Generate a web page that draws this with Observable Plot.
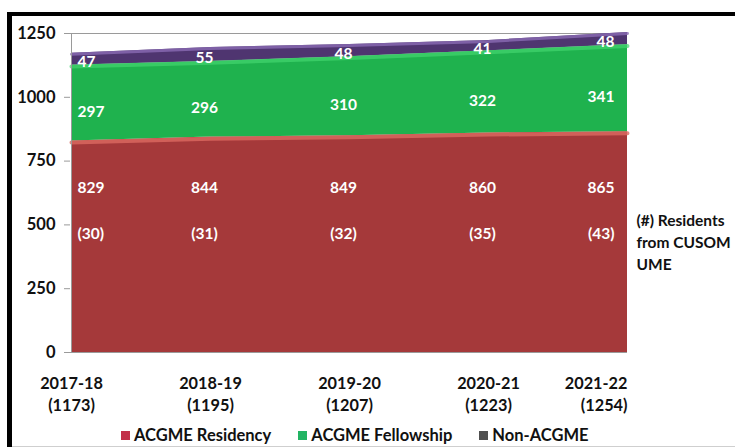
<!DOCTYPE html>
<html>
<head>
<meta charset="utf-8">
<script src="https://cdn.jsdelivr.net/npm/d3@7"></script>
<script src="https://cdn.jsdelivr.net/npm/@observablehq/plot@0.6"></script>
<style>
  html, body { margin: 0; padding: 0; background: #fff; }
  #wrap { position: relative; width: 735px; height: 447px; overflow: hidden; font-family: Lato, "Open Sans", sans-serif; }
  #frame { position: absolute; left: 7px; top: 12px; right: 0; bottom: 0; border-top: 4px solid #000; border-left: 5px solid #000; pointer-events: none; z-index: 2; }
  #bottomline { position: absolute; left: 12px; right: 0; top: 446px; height: 1px; background: #cfcfcf; z-index: 2; }
  #chart { position: absolute; left: 0; top: 0; }
  #legend { position: absolute; left: 121px; top: 426px; line-height: 19px; display: flex; gap: 27px; font-size: 16.5px; font-weight: 700; color: #111; white-space: nowrap; z-index: 1; }
  #legend span.sw { display: inline-block; width: 9px; height: 9px; margin-right: 4px; vertical-align: 1px; }
</style>
</head>
<body>
<div id="wrap">
  <div id="chart"></div>
  <div id="legend"></div>
  <div id="bottomline"></div>
  <div id="frame"></div>
</div>
<script>
const years = ["2017-18", "2018-19", "2019-20", "2020-21", "2021-22"];
const totals = [1173, 1195, 1207, 1223, 1254];
const residency = [829, 844, 849, 860, 865];
const fellowship = [297, 296, 310, 322, 341];
const nonAcgme = [47, 55, 48, 41, 48];
const cusom = [30, 31, 32, 35, 43];
const seriesNames = ["ACGME Residency", "ACGME Fellowship", "Non-ACGME"];
const seriesColors = ["#a5393a", "#1fb24e", "#4f3570"];
const edgeColors = ["#dc6a62", "#43d56f", "#8a6cb4"];
const legendColors = ["#c2304a", "#22b463", "#505050"];
const yTicks = [0, 250, 500, 750, 1000, 1250];
const annotation = "(#) Residents\nfrom CUSOM\nUME";

// stacked rows
const seriesValues = [residency, fellowship, nonAcgme];
const rows = [];
years.forEach((yr, i) => {
  let base = 0;
  seriesValues.forEach((vals, s) => {
    rows.push({year: yr, i, series: seriesNames[s], value: vals[i], y1: base, y2: base + vals[i]});
    base += vals[i];
  });
});
const last = years.length - 1;

const resRows = rows.filter(d => d.series === seriesNames[0]);
const felRows = rows.filter(d => d.series === seriesNames[1]);
const nonRows = rows.filter(d => d.series === seriesNames[2]);

function labelMarks(data, yFn, dy, textFn) {
  return [0, 1, 2].map(k => {
    const sub = data.filter(d => (k === 0 ? d.i === 0 : k === 2 ? d.i === last : d.i !== 0 && d.i !== last));
    return Plot.text(sub, {
      x: "year", y: yFn, text: textFn, dy,
      dx: k === 0 ? 6 : k === 2 ? -13 : -6,
      textAnchor: k === 0 ? "start" : k === 2 ? "end" : "middle",
      fill: "white", fontWeight: "bold", fontSize: 15.5
    });
  });
}

const plot = Plot.plot({
  width: 735,
  height: 447,
  marginTop: 33, marginBottom: 95, marginLeft: 70, marginRight: 108,
  style: {fontFamily: "Lato, 'Open Sans', sans-serif", background: "transparent", overflow: "visible"},
  x: {type: "point", domain: years, range: [70, 627], padding: 0, axis: null},
  y: {domain: [0, 1250], range: [352, 33], axis: null},
  color: {domain: seriesNames, range: seriesColors},
  marks: [
    Plot.ruleY([1250], {stroke: "#9a9a9a", strokeWidth: 1}),
    Plot.areaY(rows, {x: "year", y1: "y1", y2: "y2", z: "series", fill: "series", curve: "linear"}),
    Plot.lineY(resRows, {x: "year", y: d => d.y2 - 6, stroke: edgeColors[0], strokeWidth: 4, strokeOpacity: 0.8}),
    Plot.lineY(felRows, {x: "year", y: d => d.y2 - 5, stroke: edgeColors[1], strokeWidth: 4, strokeOpacity: 0.7}),
    Plot.lineY(nonRows, {x: "year", y: d => d.y2 - 4, stroke: edgeColors[2], strokeWidth: 3, strokeOpacity: 0.8}),
    Plot.ruleY([0], {stroke: "#9a9a9a"}),
    Plot.axisY({ticks: yTicks, anchor: "left", tickSize: 6, tickPadding: 9, stroke: "#9a9a9a", fill: "#111", fontWeight: "bold", fontSize: 16.5, tickFormat: d => String(d), label: null}),
    Plot.ruleX([years[0]], {y1: 0, y2: 1250, stroke: "#9a9a9a"}),
    // residency values and CUSOM numbers
    ...labelMarks(resRows, () => 645, 0, d => String(d.value)),
    ...labelMarks(resRows, () => 465, 0, d => `(${cusom[d.i]})`),
    // fellowship values
    ...labelMarks(felRows, d => (d.y1 + d.y2) / 2, 9, d => String(d.value)),
    // non-ACGME values
    ...labelMarks(nonRows, d => (d.y1 + d.y2) / 2, 3, d => String(d.value)),
    // x axis labels
    Plot.text(years.slice(0, last), {x: d => d, y: () => 0, dy: 40, text: d => `${d}\n(${totals[years.indexOf(d)]})`, lineHeight: 1.36, fill: "#111", fontWeight: "bold", fontSize: 16.3, textAnchor: "middle"}),
    Plot.text([years[last]], {x: d => d, y: () => 0, dy: 40, text: d => `${d}\n(${totals[last]})`, lineHeight: 1.36, fill: "#111", fontWeight: "bold", fontSize: 16.3, textAnchor: "end"}),
    // annotation
    Plot.text([annotation], {x: () => years[last], y: () => 439, dx: 9, text: d => d, textAnchor: "start", lineHeight: 1.42, fill: "#111", fontWeight: "bold", fontSize: 15.5})
  ]
});
document.getElementById("chart").appendChild(plot);

const legend = document.getElementById("legend");
seriesNames.forEach((name, k) => {
  const item = document.createElement("div");
  item.innerHTML = `<span class="sw" style="background:${legendColors[k]}"></span>${name}`;
  legend.appendChild(item);
});
</script>
</body>
</html>
